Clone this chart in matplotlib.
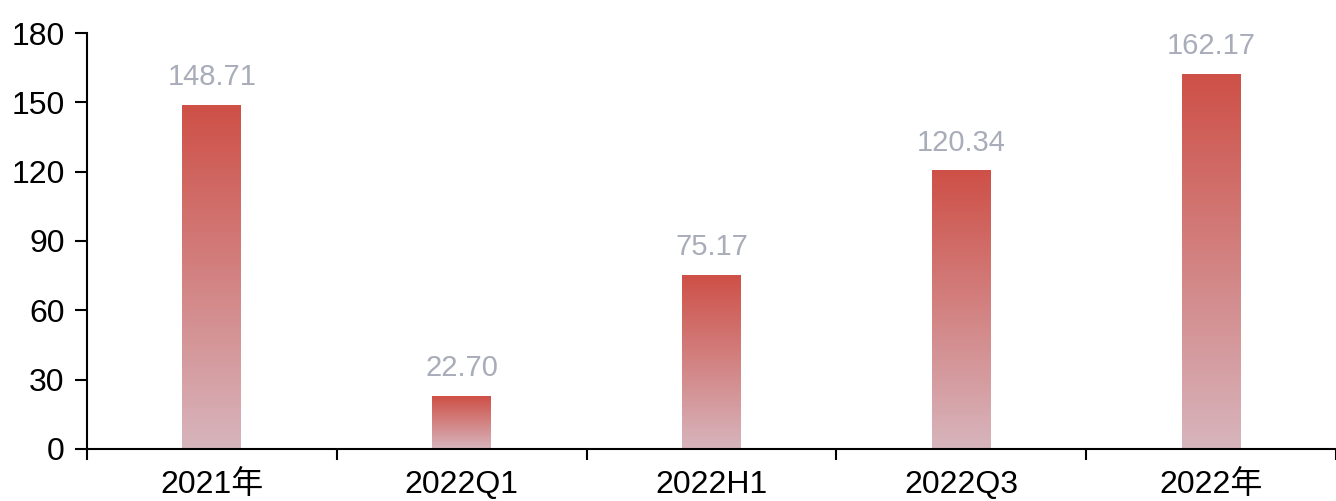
import numpy as np
import matplotlib
matplotlib.use("Agg")
import matplotlib.pyplot as plt
from matplotlib.colors import LinearSegmentedColormap

plt.rcParams['font.family'] = ['Liberation Sans', 'Noto Sans CJK SC', 'DejaVu Sans']

categories = ['2021年', '2022Q1', '2022H1', '2022Q3', '2022年']
values = [148.71, 22.70, 75.17, 120.34, 162.17]
yticks = [0, 30, 60, 90, 120, 150, 180]

fig = plt.figure(figsize=(13.36, 5.01), dpi=100)
ax = fig.add_axes([87/1336, 52/501, 1 - 87/1336, (449-33)/501])

x = np.arange(len(categories))
bars = ax.bar(x, values, width=0.236, color='none', edgecolor='none', zorder=2)

cmap = LinearSegmentedColormap.from_list('g', ['#d7b5bd', '#ce5047'])
grad = np.linspace(0, 1, 256).reshape(-1, 1)
for b in bars:
    x0, y0 = b.get_x(), b.get_y()
    w, h = b.get_width(), b.get_height()
    ax.imshow(grad, cmap=cmap, origin='lower', aspect='auto',
              extent=(x0, x0 + w, y0, y0 + h), zorder=2, interpolation='bilinear')

for xi, v in zip(x, values):
    ax.annotate(f'{v:.2f}', (xi, v), xytext=(0, 14.5), textcoords='offset points',
                ha='center', va='baseline', fontsize=21, color='#a9acb9')

ax.set_xlim(-0.5, len(categories) - 0.5)
ax.set_ylim(0, 180)
ax.set_yticks(yticks)
ax.set_xticks(np.arange(len(categories) + 1) - 0.5)
ax.set_xticklabels([])
ax.set_xticks(x, minor=True)
ax.set_xticklabels(categories, minor=True)
ax.tick_params(axis='x', which='major', length=8, width=1.5, direction='out')
ax.tick_params(axis='x', which='minor', length=0, pad=15, labelsize=23)
ax.tick_params(axis='y', length=9, width=1.5, pad=7, labelsize=23)
for s in ['top', 'right']:
    ax.spines[s].set_visible(False)
for s in ['left', 'bottom']:
    ax.spines[s].set_linewidth(1.5)

fig.savefig('out.png', dpi=100)
